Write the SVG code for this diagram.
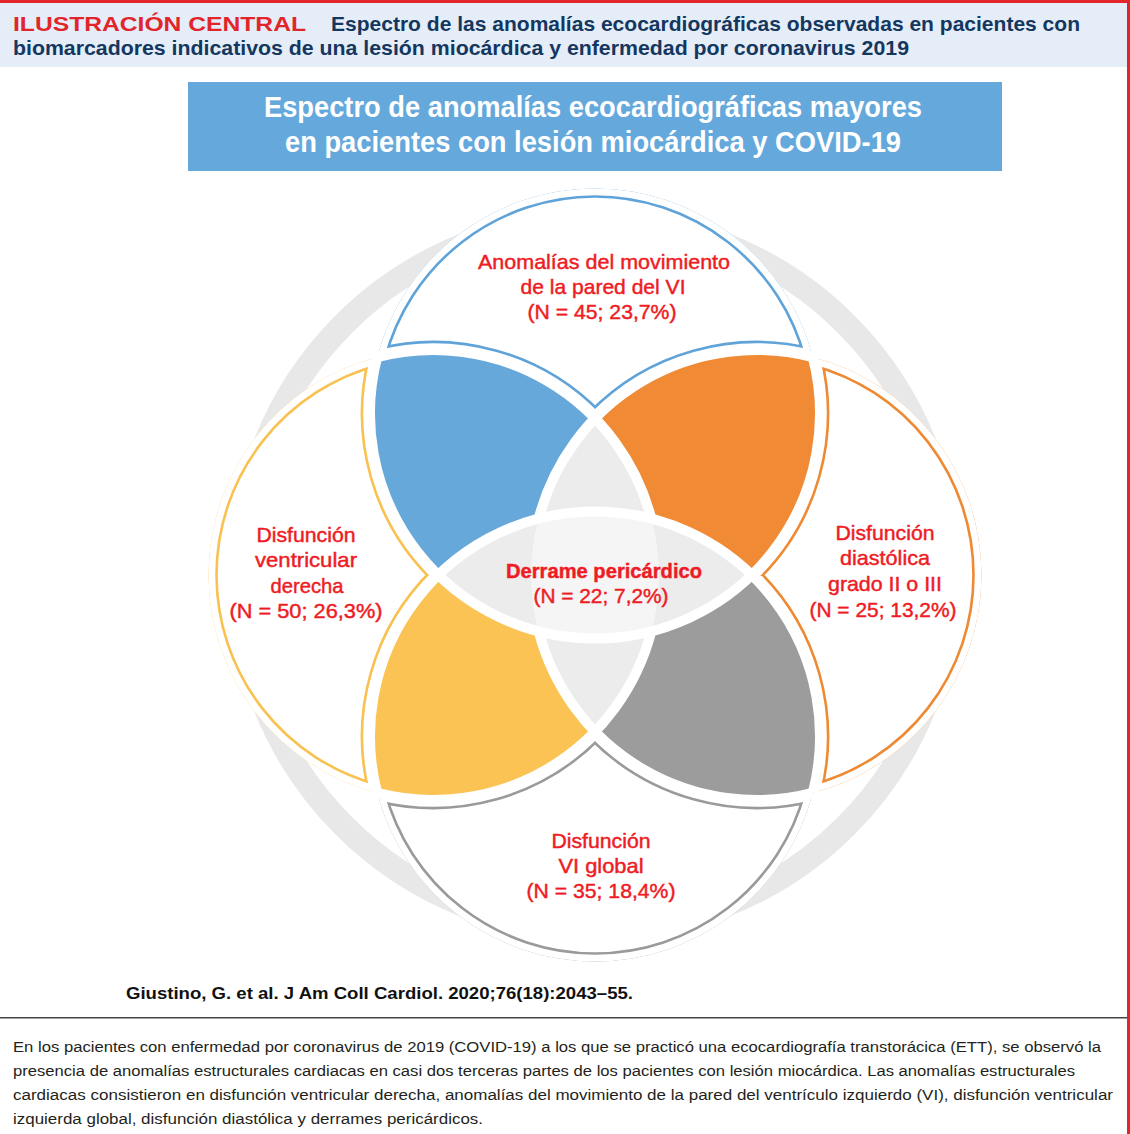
<svg xmlns="http://www.w3.org/2000/svg" xmlns:xlink="http://www.w3.org/1999/xlink" width="1130" height="1134" viewBox="0 0 1130 1134">
<style>
.hd{font-family:"Liberation Sans",Arial,sans-serif;font-weight:bold;font-size:20.5px}
.ttl{font-family:"Liberation Sans",Arial,sans-serif;font-weight:bold;font-size:29px;fill:#fff}
.lbl{font-family:"Liberation Sans",Arial,sans-serif;font-size:21px;fill:#ee1c24;stroke:#ee1c24;stroke-width:0.45px;text-anchor:middle}
.cap{font-family:"Liberation Sans",Arial,sans-serif;font-size:15.5px;fill:#231f20}
.gap{fill:none;stroke:#fff;stroke-width:10}
.gry{fill:#ececec}
</style>
<defs>
<path id="oT" d="M377.17,357.17 A225,225 0 0 1 812.83,357.17 A225,225 0 0 0 595,418.34 A225,225 0 0 0 377.17,357.17 Z"/>
<path id="pTL" d="M377.17,357.17 A225,225 0 0 1 595,418.34 A225,225 0 0 0 538.67,518.67 A225,225 0 0 0 438.34,575 A225,225 0 0 1 377.17,357.17 Z"/>
<path id="t3" d="M595,418.34 A225,225 0 0 1 651.33,518.67 A225,225 0 0 0 538.67,518.67 A225,225 0 0 1 595,418.34 Z"/>
<clipPath id="cT"><use xlink:href="#oT"/></clipPath>
</defs>
<rect x="0" y="0" width="1130" height="1134" fill="#fff"/>
<g id="header">
<rect x="0" y="2" width="1128" height="65" fill="#e5edf8"/>
<rect x="0" y="0" width="1130" height="3" fill="#e2242b"/>
<rect x="1127" y="0" width="3" height="1134" fill="#e2242b"/>
<text class="hd" x="13" y="31" fill="#e2242b" textLength="293" lengthAdjust="spacingAndGlyphs">ILUSTRACIÓN CENTRAL</text>
<text class="hd" x="331" y="31" fill="#14375f" textLength="749" lengthAdjust="spacingAndGlyphs">Espectro de las anomalías ecocardiográficas observadas en pacientes con</text>
<text class="hd" x="13" y="55" fill="#14375f" textLength="896" lengthAdjust="spacingAndGlyphs">biomarcadores indicativos de una lesión miocárdica y enfermedad por coronavirus 2019</text>
</g>
<g id="title">
<rect x="188" y="82" width="814" height="89" fill="#65a9dc"/>
<text class="ttl" x="264" y="117" textLength="658" lengthAdjust="spacingAndGlyphs">Espectro de anomalías ecocardiográficas mayores</text>
<text class="ttl" x="285" y="152" textLength="616" lengthAdjust="spacingAndGlyphs">en pacientes con lesión miocárdica y COVID-19</text>
</g>
<g id="ring"><circle cx="595" cy="575" r="355" fill="none" stroke="#e8e8e8" stroke-width="24"/></g>
<g id="halos" fill="#fff">
<circle cx="595" cy="413.5" r="222"/><circle cx="595" cy="736.5" r="222"/>
<circle cx="433.5" cy="575" r="222"/><circle cx="756.5" cy="575" r="222"/>
</g>
<g id="node-top"><use xlink:href="#oT" fill="#fff"/>
<g clip-path="url(#cT)"><use xlink:href="#oT" fill="none" stroke="#5fa3d9" stroke-width="18.6"/><use xlink:href="#oT" fill="none" stroke="#fff" stroke-width="13.4"/></g></g>
<g id="node-right" transform="rotate(90 595 575)"><use xlink:href="#oT" fill="#fff"/>
<g clip-path="url(#cT)"><use xlink:href="#oT" fill="none" stroke="#ee8a33" stroke-width="18.6"/><use xlink:href="#oT" fill="none" stroke="#fff" stroke-width="13.4"/></g></g>
<g id="node-bottom" transform="rotate(180 595 575)"><use xlink:href="#oT" fill="#fff"/>
<g clip-path="url(#cT)"><use xlink:href="#oT" fill="none" stroke="#9a9a9a" stroke-width="18.6"/><use xlink:href="#oT" fill="none" stroke="#fff" stroke-width="13.4"/></g></g>
<g id="node-left" transform="rotate(270 595 575)"><use xlink:href="#oT" fill="#fff"/>
<g clip-path="url(#cT)"><use xlink:href="#oT" fill="none" stroke="#f8c150" stroke-width="18.6"/><use xlink:href="#oT" fill="none" stroke="#fff" stroke-width="13.4"/></g></g>
<g id="petals">
<use xlink:href="#pTL" fill="#67a8db"/>
<use xlink:href="#pTL" fill="#f08a35" transform="rotate(90 595 575)"/>
<use xlink:href="#pTL" fill="#9c9c9c" transform="rotate(180 595 575)"/>
<use xlink:href="#pTL" fill="#fac353" transform="rotate(270 595 575)"/>
</g>
<g id="triples">
<use xlink:href="#t3" class="gry"/>
<use xlink:href="#t3" class="gry" transform="rotate(90 595 575)"/>
<use xlink:href="#t3" class="gry" transform="rotate(180 595 575)"/>
<use xlink:href="#t3" class="gry" transform="rotate(270 595 575)"/>
</g>
<g id="node-center">
<path d="M538.67,518.67 A225,225 0 0 1 651.33,518.67 A225,225 0 0 1 651.33,631.33 A225,225 0 0 1 538.67,631.33 A225,225 0 0 1 538.67,518.67 Z" fill="#f5f5f5"/>
</g>
<g id="connectors">
<path class="gap" d="M812.83,357.17 A225,225 0 1 1 377.17,357.17"/>
<path class="gap" d="M377.17,792.83 A225,225 0 1 1 812.83,792.83"/>
<path class="gap" d="M377.17,357.17 A225,225 0 0 1 651.33,518.67"/>
<path class="gap" d="M651.33,631.33 A225,225 0 0 1 377.17,792.83"/>
<path class="gap" d="M812.83,357.17 A225,225 0 0 0 538.67,518.67"/>
<path class="gap" d="M538.67,631.33 A225,225 0 0 0 812.83,792.83"/>
</g>
<g id="labels">
<text class="lbl" x="604" y="269" textLength="252" lengthAdjust="spacingAndGlyphs">Anomalías del movimiento</text>
<text class="lbl" x="603" y="294" textLength="165" lengthAdjust="spacingAndGlyphs">de la pared del VI</text>
<text class="lbl" x="602" y="319" textLength="149" lengthAdjust="spacingAndGlyphs">(N = 45; 23,7%)</text>
<text class="lbl" x="306" y="542" textLength="99" lengthAdjust="spacingAndGlyphs">Disfunción</text>
<text class="lbl" x="306" y="567" textLength="102" lengthAdjust="spacingAndGlyphs">ventricular</text>
<text class="lbl" x="307" y="593" textLength="73" lengthAdjust="spacingAndGlyphs">derecha</text>
<text class="lbl" x="306" y="618" textLength="153" lengthAdjust="spacingAndGlyphs">(N = 50; 26,3%)</text>
<text class="lbl" x="885" y="540" textLength="99" lengthAdjust="spacingAndGlyphs">Disfunción</text>
<text class="lbl" x="885" y="565" textLength="90" lengthAdjust="spacingAndGlyphs">diastólica</text>
<text class="lbl" x="885" y="591" textLength="114" lengthAdjust="spacingAndGlyphs">grado II o III</text>
<text class="lbl" x="883" y="617" textLength="147" lengthAdjust="spacingAndGlyphs">(N = 25; 13,2%)</text>
<text class="lbl" x="601" y="848" textLength="99" lengthAdjust="spacingAndGlyphs">Disfunción</text>
<text class="lbl" x="601" y="873" textLength="85" lengthAdjust="spacingAndGlyphs">VI global</text>
<text class="lbl" x="601" y="898" textLength="149" lengthAdjust="spacingAndGlyphs">(N = 35; 18,4%)</text>
<text class="lbl" x="604" y="578" font-weight="bold" textLength="196" lengthAdjust="spacingAndGlyphs">Derrame pericárdico</text>
<text class="lbl" x="601" y="603" textLength="135" lengthAdjust="spacingAndGlyphs">(N = 22; 7,2%)</text>
</g>
<g id="footer">
<text x="126" y="999" font-family="Liberation Sans, Arial, sans-serif" font-weight="bold" font-size="16.5" fill="#111" textLength="507" lengthAdjust="spacingAndGlyphs">Giustino, G. et al. J Am Coll Cardiol. 2020;76(18):2043–55.</text>
<rect x="0" y="1017" width="1127" height="1.5" fill="#444"/>
<text class="cap" x="13" y="1052" textLength="1088" lengthAdjust="spacingAndGlyphs">En los pacientes con enfermedad por coronavirus de 2019 (COVID-19) a los que se practicó una ecocardiografía transtorácica (ETT), se observó la</text>
<text class="cap" x="13" y="1076" textLength="1062" lengthAdjust="spacingAndGlyphs">presencia de anomalías estructurales cardiacas en casi dos terceras partes de los pacientes con lesión miocárdica. Las anomalías estructurales</text>
<text class="cap" x="13" y="1100" textLength="1100" lengthAdjust="spacingAndGlyphs">cardiacas consistieron en disfunción ventricular derecha, anomalías del movimiento de la pared del ventrículo izquierdo (VI), disfunción ventricular</text>
<text class="cap" x="13" y="1124" textLength="470" lengthAdjust="spacingAndGlyphs">izquierda global, disfunción diastólica y derrames pericárdicos.</text>
</g>
</svg>
